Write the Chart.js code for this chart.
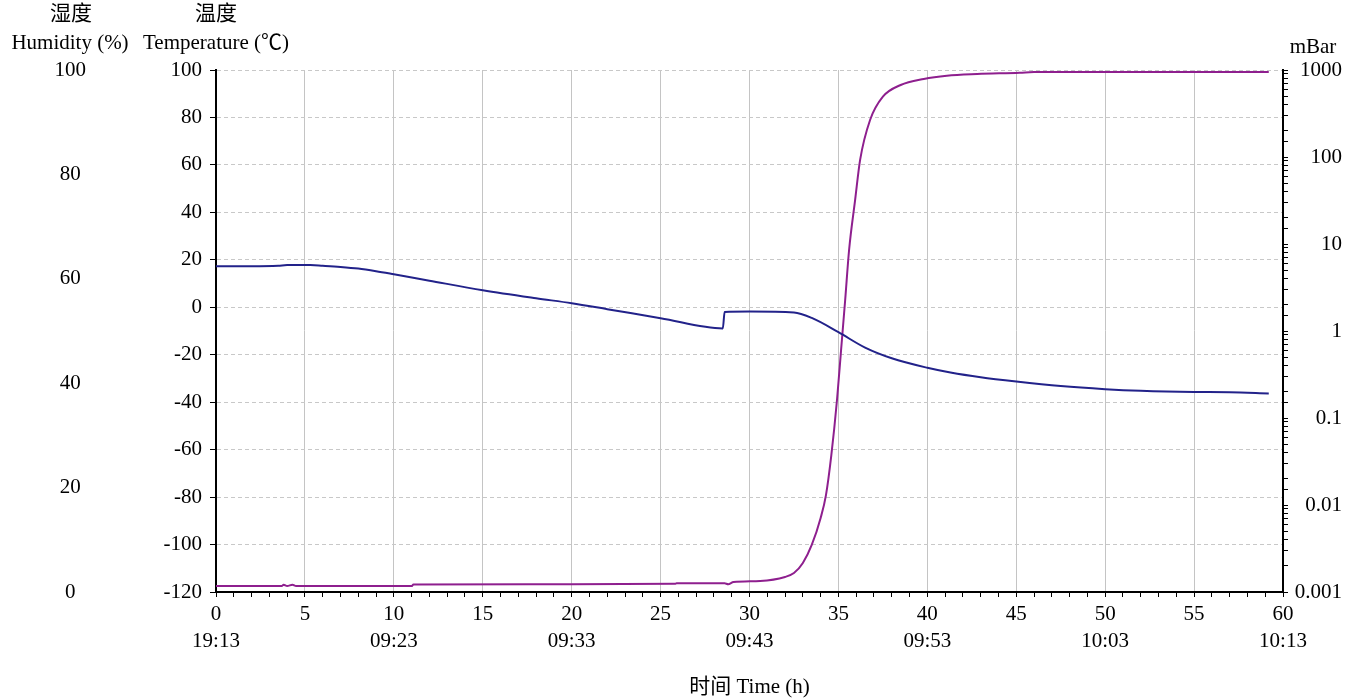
<!DOCTYPE html>
<html lang="zh">
<head>
  <meta charset="UTF-8" />
  <title>Humidity / Temperature / Pressure</title>
  <script src="https://cdn.jsdelivr.net/npm/chart.js"></script>
  <style>
    body { margin: 0; background: #fff; }
    .wrap { width: 1369px; height: 700px; position: relative; }
  </style>
</head>
<body>
  <div class="wrap"><canvas id="chart"></canvas></div>

  <script>
    // time axis labels (every 10 h)
    const timeLabels = { 0: '19:13', 10: '09:23', 20: '09:33', 30: '09:43', 40: '09:53', 50: '10:03', 60: '10:13' };

    // temperature (°C) vs hours
    const tempHours = [0, 2, 3.5, 4, 5.3, 6, 7, 8, 9, 10, 12, 15, 18, 20, 22, 25, 28.5, 28.6, 30, 32.5, 33.5, 35, 36.5, 38, 40, 41.3, 43, 45, 47.5, 50, 52, 55, 57, 59.2];
    const tempValues = [17.3, 17.3, 17.5, 17.8, 17.8, 17.5, 17, 16.3, 15.2, 13.9, 11.2, 7.2, 3.8, 1.7, -0.8, -4.6, -8.9, -2, -1.8, -2.2, -4.5, -10.5, -17, -21.5, -25.5, -27.5, -29.5, -31.3, -33.2, -34.5, -35.2, -35.7, -35.8, -36.3];

    // pressure (mBar) vs hours
    const presHours = [0, 3.7, 3.8, 4.0, 4.3, 4.5, 11, 11.1, 20, 25.8, 25.9, 28.6, 28.8, 29.1, 30.6, 32.0, 32.5, 33.0, 33.5, 34.0, 34.3, 34.6, 34.92, 35.15, 35.38, 35.6, 35.94, 36.22, 36.78, 37.5, 38.5, 39.8, 41.1, 42.8, 45.2, 46, 59.2];
    const presValues = [0.00117, 0.00117, 0.00121, 0.00117, 0.00121, 0.00117, 0.00117, 0.00122, 0.00123, 0.00124, 0.00126, 0.00126, 0.00123, 0.00130, 0.00134, 0.00149, 0.00165, 0.00215, 0.00347, 0.0071, 0.013, 0.0373, 0.161, 0.605, 2.27, 8.53, 32.1, 92.5, 266, 493, 672, 789, 860, 899, 930, 948, 950];

    const FONT = '"Liberation Serif", "Times New Roman", "Noto Sans CJK SC", serif';
    Chart.defaults.font.family = FONT;
    Chart.defaults.font.size = 21;
    Chart.defaults.color = '#000';

    const headerText = {
      id: 'headerText',
      afterDraw(chart) {
        const ctx = chart.ctx;
        ctx.save();
        ctx.font = '21px ' + FONT;
        ctx.fillStyle = '#000';
        ctx.textAlign = 'center';
        ctx.textBaseline = 'middle';
        ctx.fillText('湿度', 71, 14);
        ctx.fillText('Humidity (%)', 70, 43);
        ctx.fillText('温度', 216, 14);
        ctx.fillText('Temperature (℃)', 216, 43);
        ctx.fillText('mBar', 1313, 47);
        ctx.restore();
      }
    };

    new Chart(document.getElementById('chart'), {
      type: 'line',
      data: {
        datasets: [
          {
            label: 'Temperature',
            data: tempHours.map((h, i) => ({ x: h, y: tempValues[i] })),
            yAxisID: 'yTemp',
            borderColor: '#22228a',
            borderWidth: 2,
            pointRadius: 0,
            cubicInterpolationMode: 'monotone'
          },
          {
            label: 'Pressure',
            data: presHours.map((h, i) => ({ x: h, y: presValues[i] })),
            yAxisID: 'yPres',
            borderColor: '#8e1f8e',
            borderWidth: 2,
            pointRadius: 0,
            cubicInterpolationMode: 'monotone'
          }
        ]
      },
      options: {
        responsive: true,
        maintainAspectRatio: false,
        animation: false,
        layout: { padding: { top: 70, left: 0, right: 27, bottom: 0 } },
        plugins: { legend: { display: false }, tooltip: { enabled: false } },
        scales: {
          x: {
            type: 'linear',
            position: 'bottom',
            min: 0,
            max: 60,
            afterFit: s => { s.height = 108; },
            ticks: {
              stepSize: 1,
              autoSkip: false,
              maxRotation: 0,
              padding: 4,
              font: { size: 21, lineHeight: 1.3 },
              callback: v => {
                if (v % 5 !== 0) return '';
                return timeLabels[v] ? [String(v), timeLabels[v]] : String(v);
              }
            },
            grid: {
              color: c => (c.tick && c.tick.value % 5 === 0) ? '#c4c4c4' : 'rgba(0,0,0,0)',
              tickColor: '#000',
              tickLength: 5,
              lineWidth: 1
            },
            border: { color: '#000', width: 2 },
            title: {
              display: true,
              text: '时间 Time (h)',
              font: { size: 21 },
              padding: { top: 6, bottom: 0 }
            }
          },
          yTemp: {
            type: 'linear',
            position: 'left',
            weight: 0,
            min: -120,
            max: 100,
            afterFit: s => { s.width = 76; },
            ticks: { stepSize: 20, padding: 8 },
            grid: {
              color: '#c8c8c8',
              tickColor: '#000',
              tickLength: 6
            },
            border: { color: '#000', width: 2, dash: [4, 3] }
          },
          yHum: {
            type: 'linear',
            position: 'left',
            weight: 1,
            min: 0,
            max: 100,
            afterFit: s => { s.width = 140; },
            ticks: { stepSize: 20, crossAlign: 'center', padding: 54 },
            grid: { display: false, drawTicks: false },
            border: { display: false }
          },
          yPres: {
            type: 'logarithmic',
            position: 'right',
            min: 0.001,
            max: 1000,
            afterFit: s => { s.width = 59; },
            ticks: {
              autoSkip: false,
              padding: 7,
              crossAlign: 'far',
              callback: v => {
                const l = Math.log10(v);
                return Math.abs(l - Math.round(l)) < 1e-6 ? String(v) : '';
              }
            },
            grid: {
              drawOnChartArea: false,
              tickColor: '#000',
              tickLength: 5
            },
            border: { color: '#000', width: 2 }
          }
        }
      },
      plugins: [headerText]
    });
  </script>
</body>
</html>
